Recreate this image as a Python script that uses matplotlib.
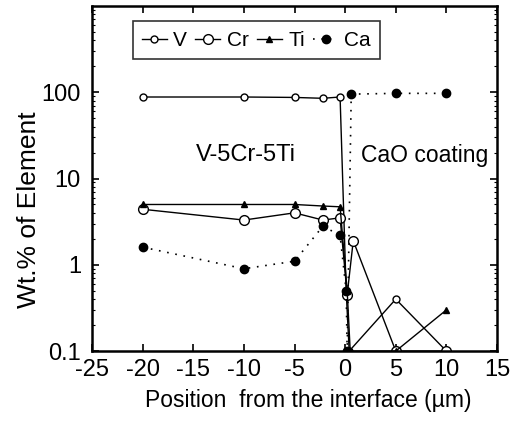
import matplotlib
matplotlib.use("Agg")
import matplotlib.pyplot as plt
from matplotlib.ticker import FixedLocator, NullFormatter

plt.rcParams['font.family'] = ['Liberation Sans', 'DejaVu Sans']

# Concentration profiles across the V-5Cr-5Ti / CaO interface (wt.%)
pos_v = [-20, -10, -5, -2.2, -0.5, 0.1, 0.4, 5, 10]
wt_v = [88, 88, 87, 85, 88, 0.5, 0.1, 0.4, 0.1]

pos_cr = [-20, -10, -5, -2.2, -0.5, 0.2, 0.8, 5, 10]
wt_cr = [4.4, 3.3, 4.0, 3.3, 3.5, 0.45, 1.9, 0.1, 0.1]

pos_ti = [-20, -10, -5, -2.2, -0.5, 0.2, 0.5, 5, 10]
wt_ti = [5.0, 5.0, 5.0, 4.8, 4.7, 0.5, 0.1, 0.1, 0.3]

pos_ca = [-20, -10, -5, -2.2, -0.5, 0.1, 0.2, 0.6, 5, 10]
wt_ca = [1.6, 0.9, 1.1, 2.8, 2.2, 0.5, 0.1, 95, 97, 97]

xticks = [-25, -20, -15, -10, -5, 0, 5, 10, 15]
yticks = [0.1, 1, 10, 100]
ytick_labels = ['0.1', '1', '10', '100']

fig = plt.figure(figsize=(5.21, 4.23), dpi=100)
ax = fig.add_axes([0.1766, 0.170, 0.7774, 0.816])

ax.plot(pos_v, wt_v, color='black', lw=1.0, marker='o', ms=5,
        mfc='white', mec='black', mew=1.0, label='V')
ax.plot(pos_cr, wt_cr, color='black', lw=1.0, marker='o', ms=7,
        mfc='white', mec='black', mew=1.0, label='Cr')
ax.plot(pos_ti, wt_ti, color='black', lw=1.0, marker='^', ms=4,
        mfc='black', mec='black', label='Ti')
ax.plot(pos_ca, wt_ca, color='black', lw=1.2, ls=(0, (1, 4)), marker='o',
        ms=6, mfc='black', mec='black', label='Ca')

ax.set_yscale('log')
ax.set_xlim(-25, 15)
ax.set_ylim(0.1, 1000)
ax.set_xticks(xticks)
ax.set_xticklabels([str(t) for t in xticks])
ax.yaxis.set_major_locator(FixedLocator(yticks))
ax.set_yticklabels(ytick_labels)
ax.yaxis.set_minor_formatter(NullFormatter())

ax.tick_params(which='major', direction='in', length=5, width=1.2,
               top=True, right=True, labelsize=17)
ax.tick_params(axis='x', which='major', pad=6)
ax.tick_params(axis='y', which='major', pad=8)
ax.tick_params(which='minor', direction='in', length=2.5, width=0.8,
               left=True, right=True)
for spine in ax.spines.values():
    spine.set_linewidth(1.8)

ax.set_xlabel('Position  from the interface (\u00b5m)', fontsize=16.5)
ax.xaxis.set_label_coords(0.533, -0.11)
ax.set_ylabel('Wt.% of Element', fontsize=19)
ax.yaxis.set_label_coords(-0.126, 0.41)

ax.text(-9.8, 18.7, 'V-5Cr-5Ti', fontsize=17, ha='center', va='center')
ax.text(1.6, 18.7, 'CaO coating', fontsize=16.5, ha='left', va='center')

leg = ax.legend(loc='upper left', bbox_to_anchor=(0.10, 0.955), ncol=4,
                borderaxespad=0, fontsize=15, handlelength=1.2,
                handletextpad=0.3, columnspacing=0.4, borderpad=0.45,
                fancybox=False, frameon=True, edgecolor='black')
leg.get_frame().set_linewidth(1.2)

fig.savefig('out.png', dpi=100)
